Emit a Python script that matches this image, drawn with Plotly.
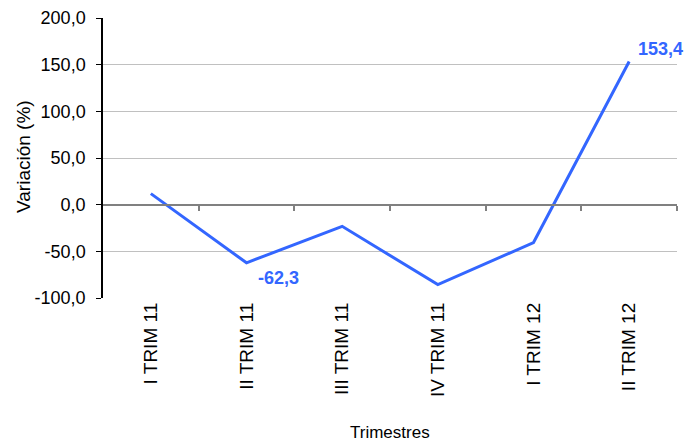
import plotly.graph_objects as go

categories = ["I TRIM 11", "II TRIM 11", "III TRIM 11", "IV TRIM 11", "I TRIM 12", "II TRIM 12"]
variacion = [11.8, -62.3, -23.2, -85.7, -40.6, 153.4]
y_tickvals = [-100, -50, 0, 50, 100, 150, 200]
y_ticktext = ["-100,0", "-50,0", "0,0", "50,0", "100,0", "150,0", "200,0"]
labelled = {1: "-62,3", 5: "153,4"}

BLUE = "#3366FF"
FONT = "Liberation Sans, Arial, sans-serif"

idx = list(range(len(categories)))

# page has an 8px body margin; size the figure so it fits the 697x444 window
OFF = 8
W, H = 697 - OFF, 444 - OFF
ml, mr, mt, mb = 103 - OFF, 20, 18 - OFF, 146
pw, ph = W - ml - mr, H - mt - mb

def px_to_paper_x(px):
    return (px - OFF - ml) / pw

def px_to_paper_y(py):
    return (H - mb - (py - OFF)) / ph

fig = go.Figure()
fig.add_trace(go.Scatter(
    x=idx, y=variacion, mode="lines",
    line=dict(color=BLUE, width=3),
    showlegend=False, hoverinfo="skip",
))
# invisible trace that activates the zero-line axis with category-boundary ticks
fig.add_trace(go.Scatter(
    x=[0], y=[0], xaxis="x2", yaxis="y", mode="markers",
    marker=dict(opacity=0), showlegend=False, hoverinfo="skip",
))

ann = []
shifts = {1: (32, -15), 5: (31, 12)}
for i, txt in labelled.items():
    dx, dy = shifts[i]
    ann.append(dict(
        x=i, y=variacion[i], xref="x", yref="y", text=txt, showarrow=False,
        xshift=dx, yshift=dy, xanchor="center", yanchor="middle",
        font=dict(family=FONT, size=18, color=BLUE, weight="bold"),
    ))
ann.append(dict(
    x=px_to_paper_x(390), y=px_to_paper_y(432), xref="paper", yref="paper",
    text="Trimestres", showarrow=False, xanchor="center", yanchor="middle",
    font=dict(family=FONT, size=17, color="#000000"),
))
ann.append(dict(
    x=px_to_paper_x(23), y=px_to_paper_y(157), xref="paper", yref="paper",
    text="Variación (%)", showarrow=False, textangle=-90,
    xanchor="center", yanchor="middle",
    font=dict(family=FONT, size=19, color="#000000"),
))

fig.update_layout(
    width=W, height=H,
    margin=dict(l=ml, r=mr, t=mt, b=mb, autoexpand=False),
    paper_bgcolor="white", plot_bgcolor="white",
    font=dict(family=FONT, size=18, color="#000000"),
    xaxis=dict(
        range=[-0.5, 5.5], tickmode="array", tickvals=idx, ticktext=categories,
        tickangle=-90, showgrid=False, zeroline=False, showline=False,
        ticks="", tickfont=dict(size=19),
    ),
    xaxis2=dict(
        overlaying="x", anchor="free", position=100 / 300, side="bottom",
        range=[-0.5, 5.5], tickmode="array",
        tickvals=[i + 0.5 for i in idx], showticklabels=False,
        ticks="outside", ticklen=5, tickcolor="#808080", tickwidth=1.5,
        showline=True, linecolor="#808080", linewidth=2,
        showgrid=False, zeroline=False,
    ),
    yaxis=dict(
        range=[-100, 200], tickmode="array", tickvals=y_tickvals, ticktext=y_ticktext,
        showgrid=True, gridcolor="#C0C0C0", gridwidth=1,
        zeroline=False, showline=True, linecolor="#000000", linewidth=1.5,
        ticks="outside", ticklen=5, tickcolor="#000000",
        ticklabelstandoff=7, tickfont=dict(size=18),
    ),
    annotations=ann,
)

fig.write_html("out.html")
